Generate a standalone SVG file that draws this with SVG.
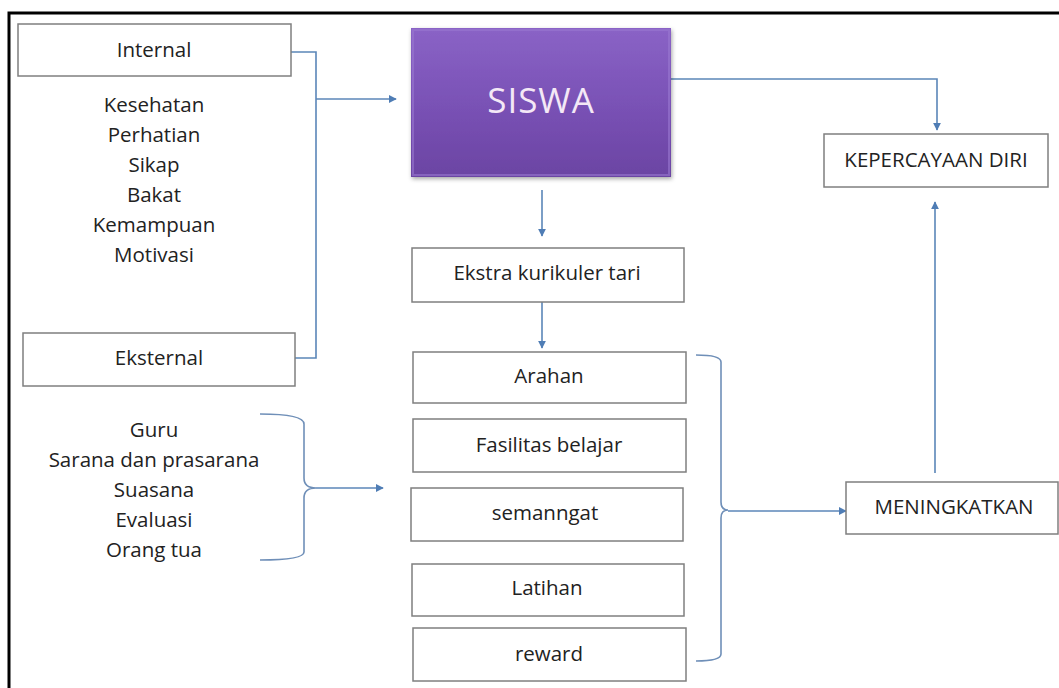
<svg xmlns="http://www.w3.org/2000/svg" width="1059" height="688" viewBox="0 0 1059 688">
<defs>
<style>
.box{fill:#fff;stroke:#7f7f7f;stroke-width:1.5}
.t{font-family:"Open Sans","Noto Sans",sans-serif;font-size:20.5px;fill:#222;text-anchor:middle}
.c{fill:none;stroke:#5b86b8;stroke-width:1.6}
.br{fill:none;stroke:#6f8fb8;stroke-width:1.6}
</style>
<linearGradient id="pg" x1="0" y1="0" x2="0" y2="1">
<stop offset="0" stop-color="#8a63c6"/>
<stop offset="0.5" stop-color="#7a52b6"/>
<stop offset="1" stop-color="#6b44a3"/>
</linearGradient>
<marker id="ah" viewBox="0 0 10 10" refX="9" refY="5" markerWidth="8" markerHeight="8" markerUnits="userSpaceOnUse" orient="auto">
<path d="M0,0 L10,5 L0,10 z" fill="#4f7db5"/>
</marker>
<filter id="sh" x="-10%" y="-10%" width="120%" height="120%">
<feDropShadow dx="1" dy="2" stdDeviation="2" flood-color="#000" flood-opacity="0.35"/>
</filter>
</defs>
<rect width="1059" height="688" fill="#fff"/>
<path d="M9,688 L9,13 L1059,13" fill="none" stroke="#000" stroke-width="3"/>

<g id="connectors">
<path class="c" d="M291,52 H316 V358 H295"/>
<path class="c" d="M316,99 H396" marker-end="url(#ah)"/>
<path class="c" d="M671,79 H937 V130" marker-end="url(#ah)"/>
<path class="c" d="M542,190 V236" marker-end="url(#ah)"/>
<path class="c" d="M542,302 V348" marker-end="url(#ah)"/>
<path class="br" d="M260,414 Q304,414 304,424 V478 Q304,488 316,488 Q304,488 304,498 V552 Q304,560 260,560"/>
<path class="c" d="M316,488 H383" marker-end="url(#ah)"/>
<path class="br" d="M696,355 Q721,355 721,362 V502 Q721,510 728,510 Q721,510 721,518 V654 Q721,661 696,661"/>
<path class="c" d="M728,511 H846" marker-end="url(#ah)"/>
<path class="c" d="M935,473 V202" marker-end="url(#ah)"/>
</g>

<g id="internal"><rect class="box" x="18" y="24" width="273" height="52"/><text class="t" x="154" y="57">Internal</text></g>
<g id="internal-list">
<text class="t" x="154" y="112">Kesehatan</text>
<text class="t" x="154" y="142">Perhatian</text>
<text class="t" x="154" y="172">Sikap</text>
<text class="t" x="154" y="202">Bakat</text>
<text class="t" x="154" y="232">Kemampuan</text>
<text class="t" x="154" y="262">Motivasi</text>
</g>
<g id="eksternal"><rect class="box" x="23" y="333" width="272" height="53"/><text class="t" x="159" y="365">Eksternal</text></g>
<g id="eksternal-list">
<text class="t" x="154" y="437">Guru</text>
<text class="t" x="154" y="467">Sarana dan prasarana</text>
<text class="t" x="154" y="497">Suasana</text>
<text class="t" x="154" y="527">Evaluasi</text>
<text class="t" x="154" y="557">Orang tua</text>
</g>
<g id="siswa">
<rect x="411" y="28" width="260" height="149" fill="url(#pg)" filter="url(#sh)"/>
<rect x="413" y="30" width="256" height="145" fill="none" stroke="#9a78d0" stroke-width="2" opacity="0.6"/>
<text x="541" y="113" font-family="'Open Sans','Noto Sans',sans-serif" font-size="35" letter-spacing="1" fill="#f4e8f6" text-anchor="middle">SISWA</text>
</g>
<g id="kepercayaan"><rect class="box" x="824" y="134" width="224" height="53"/><text class="t" x="936" y="167">KEPERCAYAAN DIRI</text></g>
<g id="ekstra"><rect class="box" x="412" y="248" width="272" height="54"/><text class="t" x="547" y="280">Ekstra kurikuler tari</text></g>
<g id="arahan"><rect class="box" x="413" y="352" width="273" height="51"/><text class="t" x="549" y="383">Arahan</text></g>
<g id="fasilitas"><rect class="box" x="413" y="419" width="273" height="53"/><text class="t" x="549" y="452">Fasilitas belajar</text></g>
<g id="semangat"><rect class="box" x="411" y="488" width="272" height="53"/><text class="t" x="545" y="520">semanngat</text></g>
<g id="latihan"><rect class="box" x="412" y="564" width="272" height="52"/><text class="t" x="547" y="595">Latihan</text></g>
<g id="reward"><rect class="box" x="413" y="628" width="273" height="53"/><text class="t" x="549" y="661">reward</text></g>
<g id="meningkatkan"><rect class="box" x="846" y="482" width="212" height="52"/><text class="t" x="954" y="514">MENINGKATKAN</text></g>
</svg>
